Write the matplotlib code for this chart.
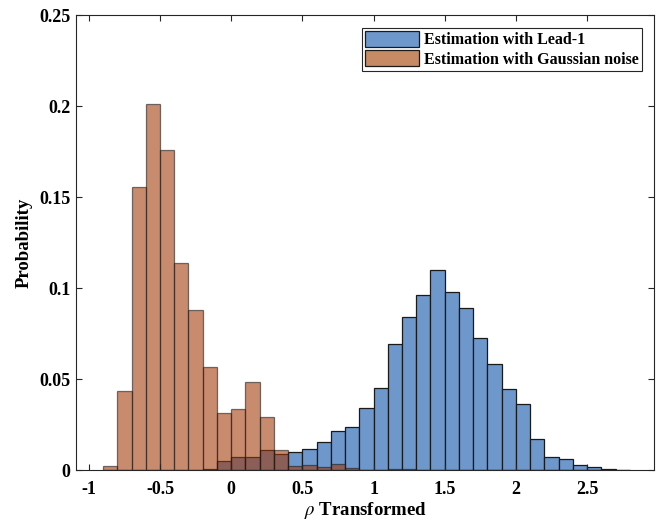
import numpy as np
import matplotlib.pyplot as plt

plt.rcParams['font.family'] = ['Liberation Serif', 'DejaVu Serif']
plt.rcParams['mathtext.fontset'] = 'stix'

# histogram bins (width 0.1) and normalised counts
bin_edges = np.round(np.arange(-0.9, 2.81, 0.1), 2)

lead1_prob = [0.0, 0.0, 0.0, 0.0, 0.0, 0.0, 0.0, 0.0005, 0.0050,
              0.0073, 0.0071, 0.0109, 0.0088, 0.0099, 0.0115, 0.0156,
              0.0214, 0.0236, 0.0341, 0.0452, 0.0690, 0.0839, 0.0962,
              0.1097, 0.0980, 0.0888, 0.0725, 0.0582, 0.0443, 0.0364,
              0.0170, 0.0073, 0.0059, 0.0027, 0.0018, 0.0005, 0.0002]

gauss_prob = [0.0022, 0.0436, 0.1555, 0.2011, 0.1758, 0.1136, 0.0877,
              0.0564, 0.0311, 0.0333, 0.0482, 0.0289, 0.0112, 0.0020,
              0.0025, 0.0014, 0.0031, 0.0009, 0.0, 0.0, 0.0003, 0.0003,
              0.0, 0.0, 0.0, 0.0, 0.0, 0.0, 0.0, 0.0, 0.0, 0.0, 0.0,
              0.0, 0.0, 0.0, 0.0]

x_ticks = [-1, -0.5, 0, 0.5, 1, 1.5, 2, 2.5]
x_tick_labels = ['-1', '-0.5', '0', '0.5', '1', '1.5', '2', '2.5']
y_ticks = [0, 0.05, 0.1, 0.15, 0.2, 0.25]
y_tick_labels = ['0', '0.05', '0.1', '0.15', '0.2', '0.25']

left = bin_edges[:-1]
width = 0.1

fig = plt.figure(figsize=(6.59, 5.23), dpi=100)
ax = fig.add_axes([0.1153, 0.1013, 0.8771, 0.8700])

ax.bar(left, lead1_prob, width=width, align='edge', color='#6E97CB',
       edgecolor='#1a1a1a', linewidth=0.9, label='Estimation with Lead-1')
ax.bar(left, gauss_prob, width=width, align='edge', color=(0.63, 0.22, 0.02),
       alpha=0.58, edgecolor='#1a1a1a', linewidth=0.9,
       label='Estimation with Gaussian noise')

ax.set_xlim(-1.09, 2.97)
ax.set_ylim(0, 0.25)
ax.set_xticks(x_ticks)
ax.set_xticklabels(x_tick_labels)
ax.set_yticks(y_ticks)
ax.set_yticklabels(y_tick_labels)

ax.tick_params(direction='in', length=4, width=0.8, top=True, right=True,
               labelsize=13, colors='#262626', labelcolor='black')
ax.tick_params(axis='x', pad=8)
ax.tick_params(axis='y', pad=4)
for lbl in ax.get_xticklabels() + ax.get_yticklabels():
    lbl.set_fontweight('bold')
for sp in ax.spines.values():
    sp.set_color('#262626')
    sp.set_linewidth(0.8)

ax.set_xlabel(r'$\rho$ Transformed', fontsize=13.5, fontweight='bold', labelpad=1)
ax.set_ylabel('Probability', fontsize=13.5, fontweight='bold', labelpad=5)

leg = ax.legend(loc='upper right', prop={'weight': 'bold', 'size': 11.5},
                fancybox=False, edgecolor='#262626', framealpha=1,
                handlelength=3.4, handleheight=1.1, borderpad=0.2,
                labelspacing=0.12, handletextpad=0.3, borderaxespad=0,
                bbox_to_anchor=(0.979, 0.971))
leg.get_frame().set_linewidth(0.8)
for h in leg.legend_handles:
    h.set_alpha(1)
leg.legend_handles[1].set_facecolor('#C68A65')

fig.savefig('out.png', dpi=100)
